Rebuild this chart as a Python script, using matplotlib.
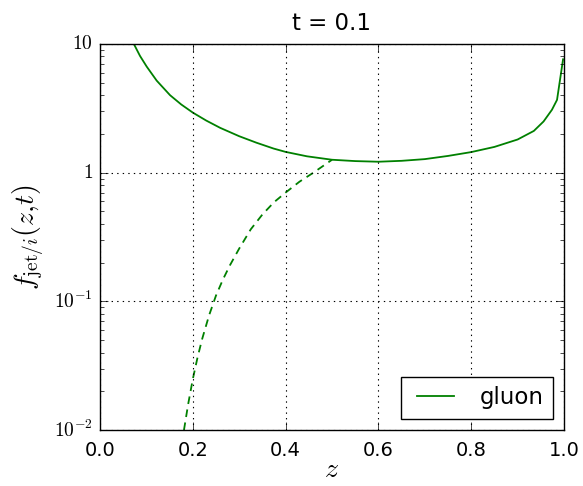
import matplotlib
matplotlib.use("Agg")
import matplotlib.pyplot as plt
import numpy as np

plt.style.use('classic')
plt.rcParams['mathtext.fontset'] = 'cm'

# solid curve: gluon
z_solid = [0.073, 0.0863, 0.1007, 0.1222, 0.151, 0.175, 0.2, 0.229, 0.259, 0.3, 0.337,
           0.374, 0.4, 0.446, 0.5, 0.55, 0.6, 0.65, 0.7, 0.75, 0.8, 0.85, 0.9,
           0.935, 0.956, 0.974, 0.985, 0.998]
f_solid = [10.0, 8.07, 6.67, 5.19, 4.0, 3.39, 2.93, 2.54, 2.23, 1.92, 1.71,
           1.54, 1.45, 1.34, 1.26, 1.23, 1.216, 1.236, 1.274, 1.349, 1.445, 1.585, 1.81,
           2.11, 2.50, 3.08, 3.68, 7.6]

# dashed curve
z_dash = [0.181, 0.19, 0.2, 0.21, 0.22, 0.235, 0.25, 0.265, 0.28, 0.3, 0.325, 0.35,
          0.375, 0.4, 0.43, 0.46, 0.48, 0.5]
f_dash = [0.01, 0.01585, 0.02483, 0.0363, 0.0507, 0.0776, 0.1109, 0.1479, 0.1905, 0.257,
          0.363, 0.473, 0.589, 0.700, 0.851, 1.0, 1.122, 1.259]

yticks = [1e-2, 1e-1, 1, 10]
ytick_labels = ['$10^{-2}$', '$10^{-1}$', '$1$', '$10$']
xticks = [0.0, 0.2, 0.4, 0.6, 0.8, 1.0]

fig = plt.figure(figsize=(5.83, 4.86), dpi=100, facecolor='white')
ax = fig.add_axes([0.1715, 0.1152, 0.7959, 0.7943])
ax.plot(z_solid, f_solid, color='g', lw=1.3, label='gluon')
ax.plot(z_dash, f_dash, color='g', lw=1.3, ls='--', dashes=(5.5, 4))
ax.set_yscale('log')
ax.set_xlim(0, 1)
ax.set_ylim(1e-2, 10)
ax.set_xticks(xticks)
ax.set_xticklabels([f'{v:.1f}' for v in xticks])
ax.set_yticks(yticks)
ax.set_yticklabels(ytick_labels)
ax.tick_params(axis='x', labelsize=14, pad=8)
ax.tick_params(axis='y', labelsize=14, pad=5)
ax.tick_params(which='major', length=6, direction='in', top=True, right=True)
ax.tick_params(which='minor', length=3, direction='in', top=True, right=True)
ax.grid(True, which='major', color='k', ls=':', lw=0.8)
ax.set_title('t = 0.1', fontsize=16.5, pad=10)
ax.set_xlabel('$z$', fontsize=20, labelpad=-4)
ax.set_ylabel(r'$f_{\rm jet/\mathit{i}}(z{,}t)$', fontsize=20, labelpad=6)
leg = ax.legend(loc='lower right', fontsize=16.5, frameon=True, fancybox=False,
                handlelength=2.2, borderpad=0.4)
fig.savefig('out.png', dpi=100, facecolor='white')
